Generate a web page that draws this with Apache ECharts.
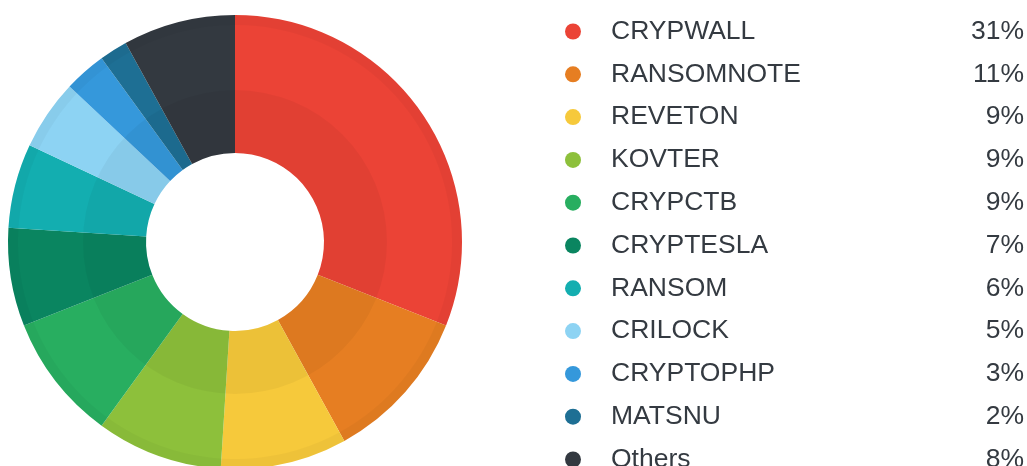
<!DOCTYPE html>
<html>
<head>
<meta charset="utf-8">
<script src="https://cdn.jsdelivr.net/npm/echarts@6/dist/echarts.min.js"></script>
<style>
  html, body { margin: 0; padding: 0; background: #fff; }
  #chart { width: 1027px; height: 466px; }
</style>
</head>
<body>
<div id="chart"></div>
<script>
// 勒索软件家族占比
var families = ["CRYPWALL", "RANSOMNOTE", "REVETON", "KOVTER", "CRYPCTB", "CRYPTESLA", "RANSOM", "CRILOCK", "CRYPTOPHP", "MATSNU", "Others"];
var shares = [31, 11, 9, 9, 9, 7, 6, 5, 3, 2, 8];
var colors = ["#EB4336", "#E67E22", "#F6C93B", "#8DC03B", "#28AE60", "#0A8560", "#13AEB0", "#8DD3F3", "#3598DB", "#1E6F94", "#333940"];

var chart = echarts.init(document.getElementById("chart"));

var pieData = families.map(function (name, i) {
  return { name: name, value: shares[i], itemStyle: { color: colors[i] } };
});

var option = {
  animation: false,
  legend: {
    orient: "vertical",
    left: 560,
    top: 13,
    height: 520,
    icon: "circle",
    itemWidth: 16,
    itemHeight: 16,
    itemGap: 15.8,
    selectedMode: false,
    data: families,
    formatter: function (name) {
      var i = families.indexOf(name);
      return "{n|" + name + "}{p|" + shares[i] + "%}";
    },
    textStyle: {
      fontFamily: "Liberation Sans",
      fontSize: 26.5,
      color: "#343a41",
      lineHeight: 26,
      rich: {
        n: { fontFamily: "Liberation Sans", fontSize: 26.5, color: "#343a41", width: 341, padding: [0, 0, 0, 25] },
        p: { fontFamily: "Liberation Sans", fontSize: 26.5, color: "#343a41", width: 72, align: "right" }
      }
    }
  },
  series: [
    {
      name: "families",
      type: "pie",
      center: [235, 242],
      radius: [89, 227],
      startAngle: 90,
      clockwise: true,
      label: { show: false },
      labelLine: { show: false },
      silent: true,
      data: pieData
    },
    {
      // 内圈阴影
      name: "inner",
      type: "pie",
      center: [235, 242],
      radius: [89, 152],
      silent: true,
      label: { show: false },
      labelLine: { show: false },
      itemStyle: { color: "rgba(0,0,0,0.04)" },
      data: [{ name: "inner-shade", value: 1 }]
    },
    {
      // 外圈阴影
      name: "outer",
      type: "pie",
      center: [235, 242],
      radius: [217, 227],
      silent: true,
      label: { show: false },
      labelLine: { show: false },
      itemStyle: { color: "rgba(0,0,0,0.03)" },
      data: [{ name: "outer-shade", value: 1 }]
    }
  ]
};

chart.setOption(option);
</script>
</body>
</html>
